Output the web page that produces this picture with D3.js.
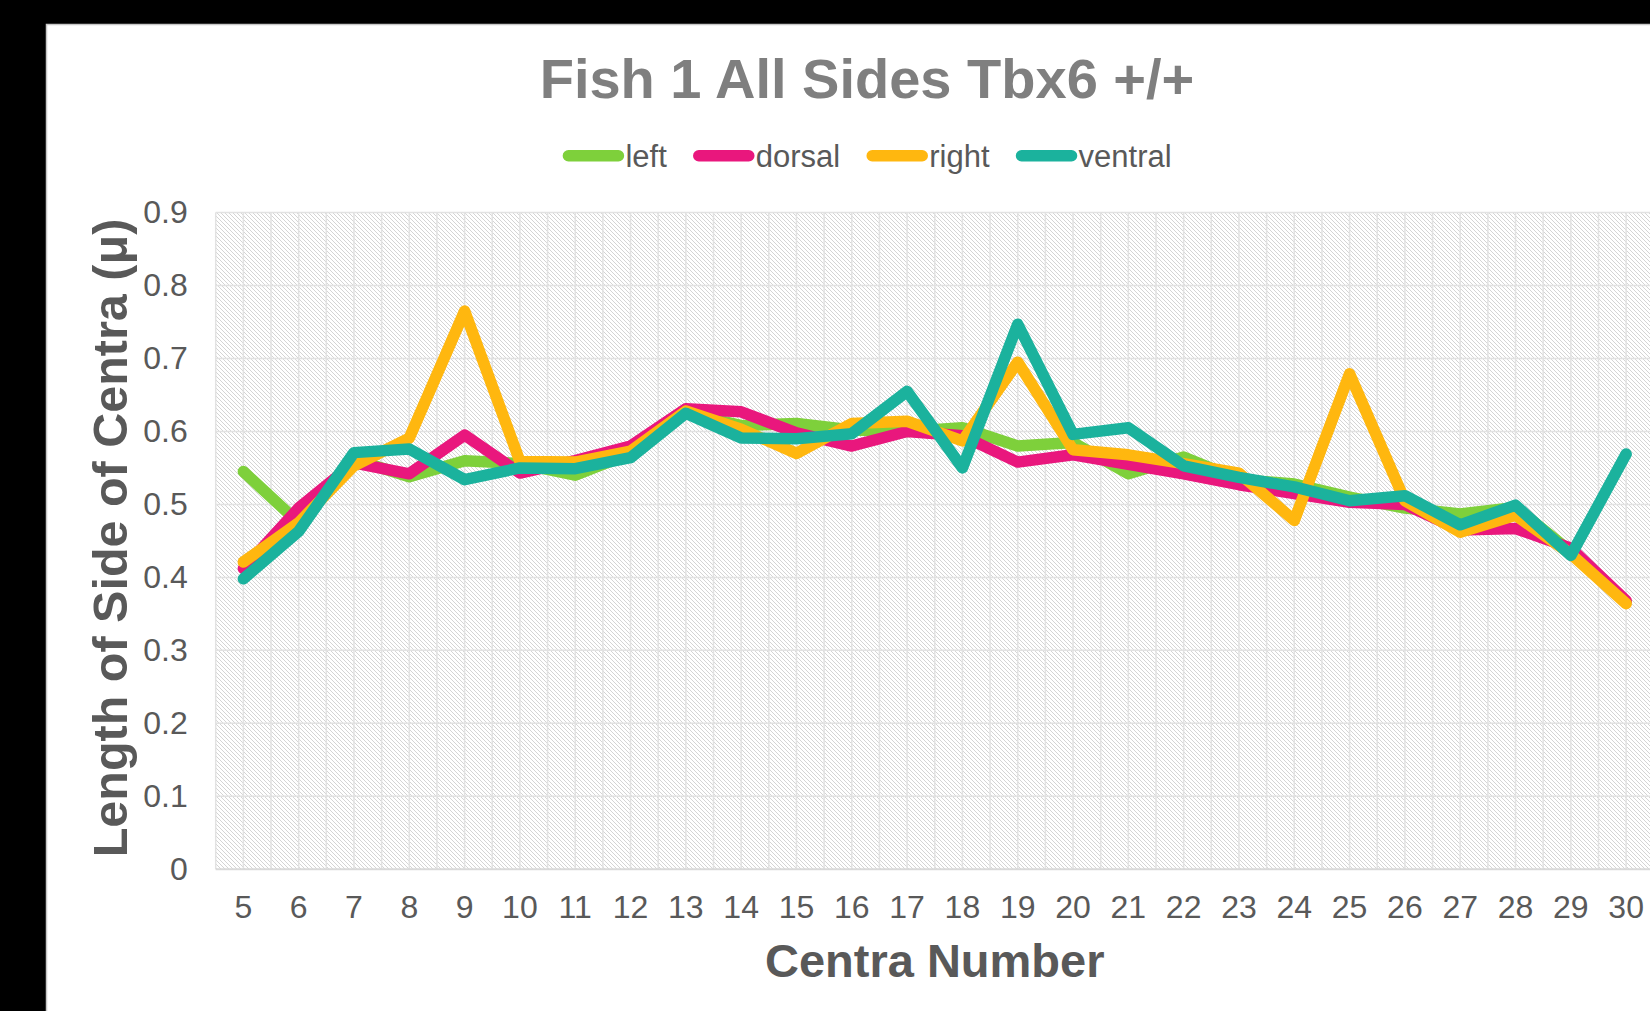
<!DOCTYPE html>
<html>
<head>
<meta charset="utf-8">
<script src="https://cdn.jsdelivr.net/npm/d3@7"></script>
<style>
  body { margin: 0; background: #000; overflow: hidden; }
  svg { display: block; }
  text { font-family: "Liberation Sans", Arial, sans-serif; }
</style>
</head>
<body>
<div id="container"></div>
<script>
// centra numbers along the x axis
const centra = [5, 6, 7, 8, 9, 10, 11, 12, 13, 14, 15, 16, 17, 18, 19, 20, 21, 22, 23, 24, 25, 26, 27, 28, 29, 30];

// side lengths, one array per side
const left    = [0.545, 0.475, 0.562, 0.538, 0.560, 0.556, 0.540, 0.570, 0.626, 0.608, 0.611, 0.602, 0.600, 0.605, 0.580, 0.585, 0.542, 0.565, 0.534, 0.528, 0.510, 0.495, 0.487, 0.496, 0.435, 0.366];
const dorsal  = [0.412, 0.495, 0.557, 0.542, 0.595, 0.543, 0.560, 0.580, 0.631, 0.627, 0.598, 0.580, 0.600, 0.594, 0.558, 0.568, 0.555, 0.542, 0.527, 0.515, 0.503, 0.500, 0.465, 0.467, 0.440, 0.368];
const right   = [0.421, 0.475, 0.553, 0.591, 0.765, 0.559, 0.558, 0.573, 0.628, 0.603, 0.570, 0.611, 0.614, 0.587, 0.695, 0.575, 0.568, 0.556, 0.543, 0.478, 0.679, 0.505, 0.462, 0.485, 0.432, 0.364];
const ventral = [0.398, 0.463, 0.571, 0.576, 0.534, 0.550, 0.549, 0.564, 0.625, 0.591, 0.590, 0.597, 0.655, 0.550, 0.747, 0.596, 0.605, 0.553, 0.537, 0.524, 0.505, 0.512, 0.472, 0.499, 0.430, 0.569];

const seriesNames = ["left", "dorsal", "right", "ventral"];
const seriesColors = ["#7ed03b", "#e9177d", "#ffb70f", "#1bb29d"];
const yTicks = [0, 0.1, 0.2, 0.3, 0.4, 0.5, 0.6, 0.7, 0.8, 0.9];

const width = 1650;
const height = 1011;
const plotLeft = 215.7;
const plotRight = 1653.8; // plot runs a little past the picture edge
const plotTop = 212.6;
const plotBottom = 869.2;
const textColor = "#595959";

const series = [left, dorsal, right, ventral].map((values, i) => ({
  name: seriesNames[i],
  color: seriesColors[i],
  values: values.map((v, j) => ({ c: centra[j], v }))
}));

const svg = d3.select("#container")
  .append("svg")
  .attr("width", width)
  .attr("height", height);

// hatched fill used by the plot area
const defs = svg.append("defs");
const pat = defs.append("pattern")
  .attr("id", "hatch")
  .attr("patternUnits", "userSpaceOnUse")
  .attr("width", 4)
  .attr("height", 4);
pat.append("rect").attr("width", 4).attr("height", 4).attr("fill", "#fff");
pat.append("path")
  .attr("d", "M-1,-1 L5,5 M-1,3 L1,5 M3,-1 L5,1")
  .attr("stroke", "#d4d4d4")
  .attr("stroke-width", 1);

// white chart area on black
svg.append("rect")
  .attr("x", 46.5).attr("y", 24.5)
  .attr("width", width).attr("height", height)
  .attr("fill", "#fff")
  .attr("stroke", "#c8c8c8")
  .attr("stroke-width", 1.5);

const x = d3.scaleBand()
  .domain(centra)
  .range([plotLeft, plotRight]);

const y = d3.scaleLinear()
  .domain([0, 0.9])
  .range([plotBottom, plotTop]);

const cx = c => x(c) + x.bandwidth() / 2;

// plot background
svg.append("rect")
  .attr("x", plotLeft).attr("y", plotTop)
  .attr("width", plotRight - plotLeft).attr("height", plotBottom - plotTop)
  .attr("fill", "url(#hatch)");

// vertical gridlines at category edges and centres
const vLines = [];
centra.forEach(c => { vLines.push(x(c)); vLines.push(cx(c)); });
svg.append("g")
  .selectAll("line")
  .data(vLines)
  .join("line")
  .attr("x1", d => d).attr("x2", d => d)
  .attr("y1", plotTop).attr("y2", plotBottom)
  .attr("stroke", "#e2e2e2")
  .attr("stroke-width", 1.5);

// horizontal gridlines
svg.append("g")
  .selectAll("line")
  .data(yTicks)
  .join("line")
  .attr("x1", plotLeft).attr("x2", plotRight)
  .attr("y1", d => y(d)).attr("y2", d => y(d))
  .attr("stroke", d => d === 0 ? "#d9d9d9" : "#e2e2e2")
  .attr("stroke-width", d => d === 0 ? 2 : 1.5);

// axes, labels only
const yAxis = svg.append("g")
  .attr("transform", `translate(${plotLeft},0)`)
  .call(d3.axisLeft(y).tickValues(yTicks).tickSize(0).tickPadding(28)
    .tickFormat(d => d === 0 ? "0" : d.toFixed(1)));
yAxis.select(".domain").remove();
yAxis.selectAll("text")
  .attr("font-size", 32)
  .attr("font-family", "Liberation Sans, Arial, sans-serif")
  .attr("fill", textColor);

const xAxis = svg.append("g")
  .attr("transform", `translate(0,${plotBottom})`)
  .call(d3.axisBottom(x).tickSize(0).tickPadding(26));
xAxis.select(".domain").remove();
xAxis.selectAll("text")
  .attr("font-size", 32)
  .attr("font-family", "Liberation Sans, Arial, sans-serif")
  .attr("fill", textColor);

// series lines
const line = d3.line()
  .x(d => cx(d.c))
  .y(d => y(d.v));

svg.append("g")
  .selectAll("path")
  .data(series)
  .join("path")
  .attr("d", d => line(d.values))
  .attr("fill", "none")
  .attr("stroke", d => d.color)
  .attr("stroke-width", 11.5)
  .attr("stroke-linejoin", "round")
  .attr("stroke-linecap", "round");

// title
svg.append("text")
  .attr("x", 867)
  .attr("y", 98)
  .attr("text-anchor", "middle")
  .attr("font-size", 56)
  .attr("font-weight", "bold")
  .attr("fill", "#7f7f7f")
  .text("Fish 1 All Sides Tbx6 +/+");

// legend, laid out from measured text widths
const legend = svg.append("g");
const legendY = 155.7;
const swatch = 62;
const itemGap = 26;
const items = legend.selectAll("g")
  .data(series)
  .join("g");
items.append("line")
  .attr("x1", 6).attr("x2", swatch - 6)
  .attr("y1", legendY).attr("y2", legendY)
  .attr("stroke", d => d.color)
  .attr("stroke-width", 11.5)
  .attr("stroke-linecap", "round");
items.append("text")
  .attr("x", swatch + 1)
  .attr("y", legendY)
  .attr("dy", "0.35em")
  .attr("font-size", 31)
  .attr("fill", textColor)
  .text(d => d.name);

let offsets = [];
let pos = 0;
items.each(function () {
  const w = d3.select(this).select("text").node().getComputedTextLength();
  offsets.push(pos);
  pos += swatch + 1 + w + itemGap;
});
const legendWidth = pos - itemGap;
const legendStart = 867 - legendWidth / 2;
items.attr("transform", (d, i) => `translate(${legendStart + offsets[i]},0)`);

// axis titles
svg.append("text")
  .attr("x", (plotLeft + plotRight) / 2)
  .attr("y", 977)
  .attr("text-anchor", "middle")
  .attr("font-size", 47)
  .attr("font-weight", "bold")
  .attr("fill", textColor)
  .text("Centra Number");

svg.append("text")
  .attr("transform", `translate(127,538) rotate(-90)`)
  .attr("text-anchor", "middle")
  .attr("font-size", 48.5)
  .attr("font-weight", "bold")
  .attr("fill", textColor)
  .text("Length of Side of Centra (μ)");
</script>
</body>
</html>
